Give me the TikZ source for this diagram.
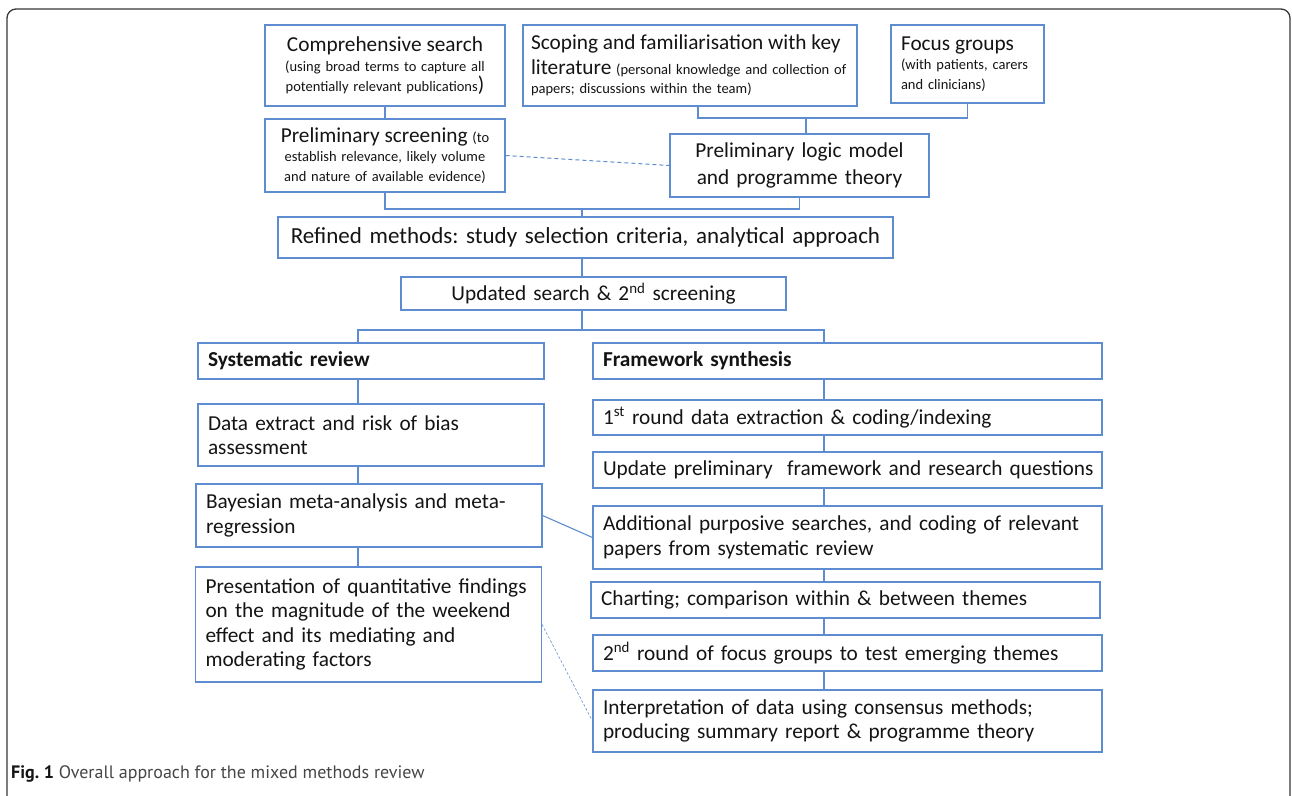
\documentclass[tikz,border=0pt]{standalone}
\usepackage{fontspec}
\setmainfont{Carlito}
\newfontfamily\capfont{PT Sans}
\usepackage{xcolor}
\usepackage{tikz}
\usetikzlibrary{positioning, calc}
\frenchspacing
\hbadness=10000
\hfuzz=40pt

\definecolor{boxblue}{RGB}{93,140,208}
\definecolor{inktext}{RGB}{20,20,20}
\definecolor{capgray}{RGB}{70,70,70}
\definecolor{framegray}{RGB}{55,55,55}

\newcommand{\bigtxt}{\fontsize{21.3}{24.5}\selectfont}
\newcommand{\smalltxt}{\fontsize{14.5}{19.5}\selectfont}
\newcommand{\logictxt}{\fontsize{21.3}{27}\selectfont}

\begin{document}
\begin{tikzpicture}[x=1pt, y=-1pt,
    stage/.style={draw=boxblue, line width=1.1pt, rectangle, inner xsep=10pt, inner ysep=2pt, text=inktext, font=\bigtxt},
    leftcol/.style={stage, text width=326pt, align=left},
    rightcol/.style={stage, text width=489pt, align=left},
    joinline/.style={draw=boxblue, line width=1.1pt},
    dashlink/.style={joinline, line width=1pt, dash pattern=on 4pt off 3pt},
    dotlink/.style={joinline, line width=0.6pt, dash pattern=on 2.5pt off 2pt}]
    \useasboundingbox (0,0) rectangle (1292,795);

    \node[stage, font=\smalltxt, text width=220pt, align=center, minimum height=81pt] (search) at (385,65.5)
        {{\bigtxt Comprehensive search}\\[1pt] (using broad terms to capture all\\ potentially relevant publications{\bigtxt)}};
    \node[stage, font=\smalltxt, inner xsep=8pt, text width=318pt, align=left, minimum height=81pt] (scoping) at (690,65.5)
        {{\bigtxt Scoping and familiarisation with key}\\[5pt] \mbox{{\bigtxt literature} (personal knowledge and collection of}\\ papers; discussions within the team)};
    \node[stage, font=\smalltxt, text width=133pt, align=left, minimum height=78pt] (focus) at (967.5,64)
        {{\bigtxt Focus groups}\\ (with patients, carers\\ and clinicians)};
    \node[stage, font=\smalltxt, text width=220pt, align=center, minimum height=73pt] (screening) at (385,155.5)
        {{\bigtxt Preliminary screening} (to\\ establish relevance, likely volume\\ and nature of available evidence)};
    \node[stage, font=\logictxt, text width=239pt, align=center, minimum height=63pt] (logic) at (799.5,165.5)
        {Preliminary logic model\\ and programme theory};

    \node[stage, font=\fontsize{23}{26}\selectfont, text width=595pt, align=center, minimum height=41pt] (refined) at (585.5,237.5)
        {Refined methods: study selection criteria, analytical approach};
    \node[stage, text width=365pt, align=center, minimum height=33pt] (updated) at (593.5,293.5)
        {Updated search \& 2\textsuperscript{nd} screening};

    \node[leftcol, minimum height=36pt] (sysrev) at (371,361) {\textbf{Systematic review}};
    \node[leftcol, minimum height=62pt] (extract) at (371,435) {Data extract and risk of bias\\ assessment};
    \node[leftcol, minimum height=63pt] (bayes) at (369,515.5) {Bayesian meta-analysis and meta-\\ regression};
    \node[leftcol, minimum height=115pt] (present) at (368.5,624.5)
        {Presentation of quantitative findings\\ on the magnitude of the weekend\\ effect and its mediating and\\ moderating factors};

    \node[rightcol, minimum height=36pt] (framework) at (847.5,361) {\textbf{Framework synthesis}};
    \node[rightcol, minimum height=35pt] (firstround) at (847.5,417.5) {1\textsuperscript{st} round data extraction \& coding/indexing};
    \node[rightcol, minimum height=36pt] (update) at (847.5,470) {\mbox{Update preliminary\ \ framework and research questions}};
    \node[rightcol, minimum height=63pt] (additional) at (847.5,537.5)
        {Additional purposive searches, and coding of relevant\\ papers from systematic review};
    \node[rightcol, minimum height=36pt] (charting) at (845.5,600) {Charting; comparison within \& between themes};
    \node[rightcol, minimum height=36pt] (secondround) at (847.5,653) {2\textsuperscript{nd} round of focus groups to test emerging themes};
    \node[rightcol, minimum height=62pt] (interp) at (847.5,721)
        {Interpretation of data using consensus methods;\\ producing summary report \& programme theory};

    \coordinate (topjoin) at (806,118);
    \coordinate (midjoin) at (582,209);
    \coordinate (split) at (582,330);
    \coordinate (lcol) at (358,330);
    \coordinate (rcol) at (824,330);

    \draw[joinline] (search.south) -- (screening.north);
    \draw[joinline] ([xshift=8pt]scoping.south) |- (topjoin) -| (focus.south);
    \draw[joinline] (topjoin) -- (topjoin |- logic.north);
    \draw[joinline] (screening.south) |- (midjoin) -| (logic.south);
    \draw[joinline] (midjoin) -- (midjoin |- refined.north);
    \draw[joinline] (midjoin |- refined.south) -- (midjoin |- updated.north);
    \draw[joinline] (midjoin |- updated.south) -- (split);
    \draw[joinline] (lcol |- sysrev.north) -- (lcol) -- (rcol) -- (rcol |- framework.north);
    \foreach \a/\b in {sysrev/extract, extract/bayes, bayes/present}
        \draw[joinline] (lcol |- \a.south) -- (lcol |- \b.north);
    \foreach \a/\b in {framework/firstround, firstround/update, update/additional, additional/charting, charting/secondround, secondround/interp}
        \draw[joinline] (rcol |- \a.south) -- (rcol |- \b.north);
    \draw[joinline] (bayes.east) -- (additional.west);
    \draw[dashlink] (screening.east) -- (logic.west);
    \draw[dotlink] (present.east) -- (interp.west);

    \draw[framegray, line width=1.3pt, rounded corners=9pt] (7,805) -- (7,9) -- (1290,9) -- (1290,805);
    \node[anchor=base west, inner sep=0pt, font=\capfont\fontsize{18}{21}\selectfont, text=capgray] (caption) at (11,778)
        {\textcolor{inktext}{\textbf{Fig. 1}} Overall approach for the mixed methods review};
\end{tikzpicture}
\end{document}
